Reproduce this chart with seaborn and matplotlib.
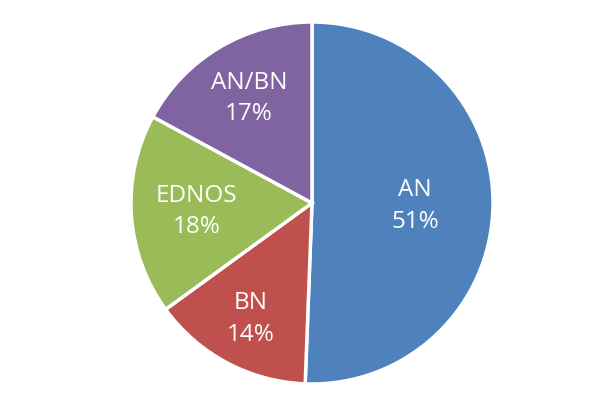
import matplotlib
matplotlib.use("Agg")
import matplotlib.pyplot as plt
import seaborn as sns
import numpy as np

categories = ["AN", "BN", "EDNOS", "AN/BN"]
values = [50.6, 14.4, 17.9, 17.1]
colors = ["#4F81BD", "#C0504D", "#9BBB59", "#8064A2"]
label_radius = [0.57, 0.72, 0.64, 0.68]

sns.set_theme(style="white")
plt.rcParams['font.family'] = ['Open Sans', 'DejaVu Sans']

fig = plt.figure(figsize=(6, 4.1), dpi=100)
ax = fig.add_axes([131/600, (410-385)/410, 362/600, 362/410])
wedges, _ = ax.pie(values, colors=colors, startangle=90, counterclock=False,
                   wedgeprops=dict(edgecolor="white", linewidth=2.5))
total = sum(values)
for w, cat, v, r in zip(wedges, categories, values, label_radius):
    ang = np.deg2rad((w.theta1 + w.theta2) / 2)
    ax.text(r*np.cos(ang), r*np.sin(ang), f"{cat}\n{round(100*v/total)}%",
            ha="center", va="center", color="white", fontsize=17.5, linespacing=1.4)
ax.set_xlim(-1, 1)
ax.set_ylim(-1, 1)
ax.set_aspect("equal")
fig.savefig("out.png", dpi=100)
